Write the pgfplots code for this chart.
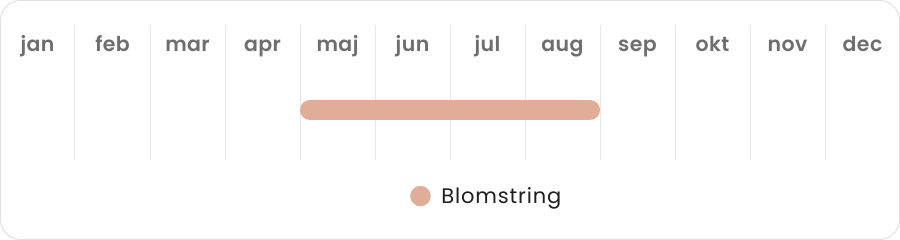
\documentclass[border=0pt]{standalone}
\usepackage{pgfplots}
\pgfplotsset{compat=1.18}
\usepackage{fontspec}
\setmainfont{Poppins}
\newfontfamily\monthfont{Poppins SemiBold}[LetterSpace=2]
\newfontfamily\legendfont{Poppins}[LetterSpace=4]

\definecolor{bloom}{HTML}{E0AE98}
\definecolor{gridcol}{HTML}{E6E6E6}
\definecolor{framecol}{HTML}{E0E0E0}
\definecolor{monthcol}{HTML}{6E6E6E}
\definecolor{textcol}{HTML}{1E1E1E}

\begin{document}
\begin{tikzpicture}[x=1pt,y=1pt]
\begin{axis}[
  width=900pt, height=240pt, scale only axis,
  xmin=0, xmax=12, ymin=0, ymax=240,
  axis lines=none, ticks=none, clip=false,
  legend style={draw=none, fill=none, at={(0.541,0.183)}, anchor=center,
    font=\legendfont\fontsize{21}{24}\selectfont\color{textcol},
    legend cell align=left},
]
  % card frame
  \draw[framecol, line width=1pt, rounded corners=20pt]
    (axis cs:0.0067,0.5) rectangle (axis cs:11.9933,239.5);
  % month separators
  \pgfplotsinvokeforeach{1,...,11}{
    \draw[gridcol, line width=1pt] (axis cs:#1,80) -- (axis cs:#1,215);
  }
  % month labels
  \pgfplotsinvokeforeach{0,...,11}{
    \node[anchor=base, text=monthcol, font=\monthfont\fontsize{20.5}{24}\selectfont]
      at (axis cs:#1+0.5,188)
      {\ifcase#1 jan\or feb\or mar\or apr\or maj\or jun\or jul\or aug\or sep\or okt\or nov\or dec\fi};
  }
  % flowering period: May to August
  \addplot[bloom, line width=20pt, line cap=round, forget plot]
    coordinates {(4.133,130) (7.867,130)};
  \addlegendimage{only marks, mark=*, mark size=10pt, bloom, mark options={draw=none, fill=bloom}}
  \addlegendentry{\hspace{9pt}Blomstring}
\end{axis}
\end{tikzpicture}
\end{document}
